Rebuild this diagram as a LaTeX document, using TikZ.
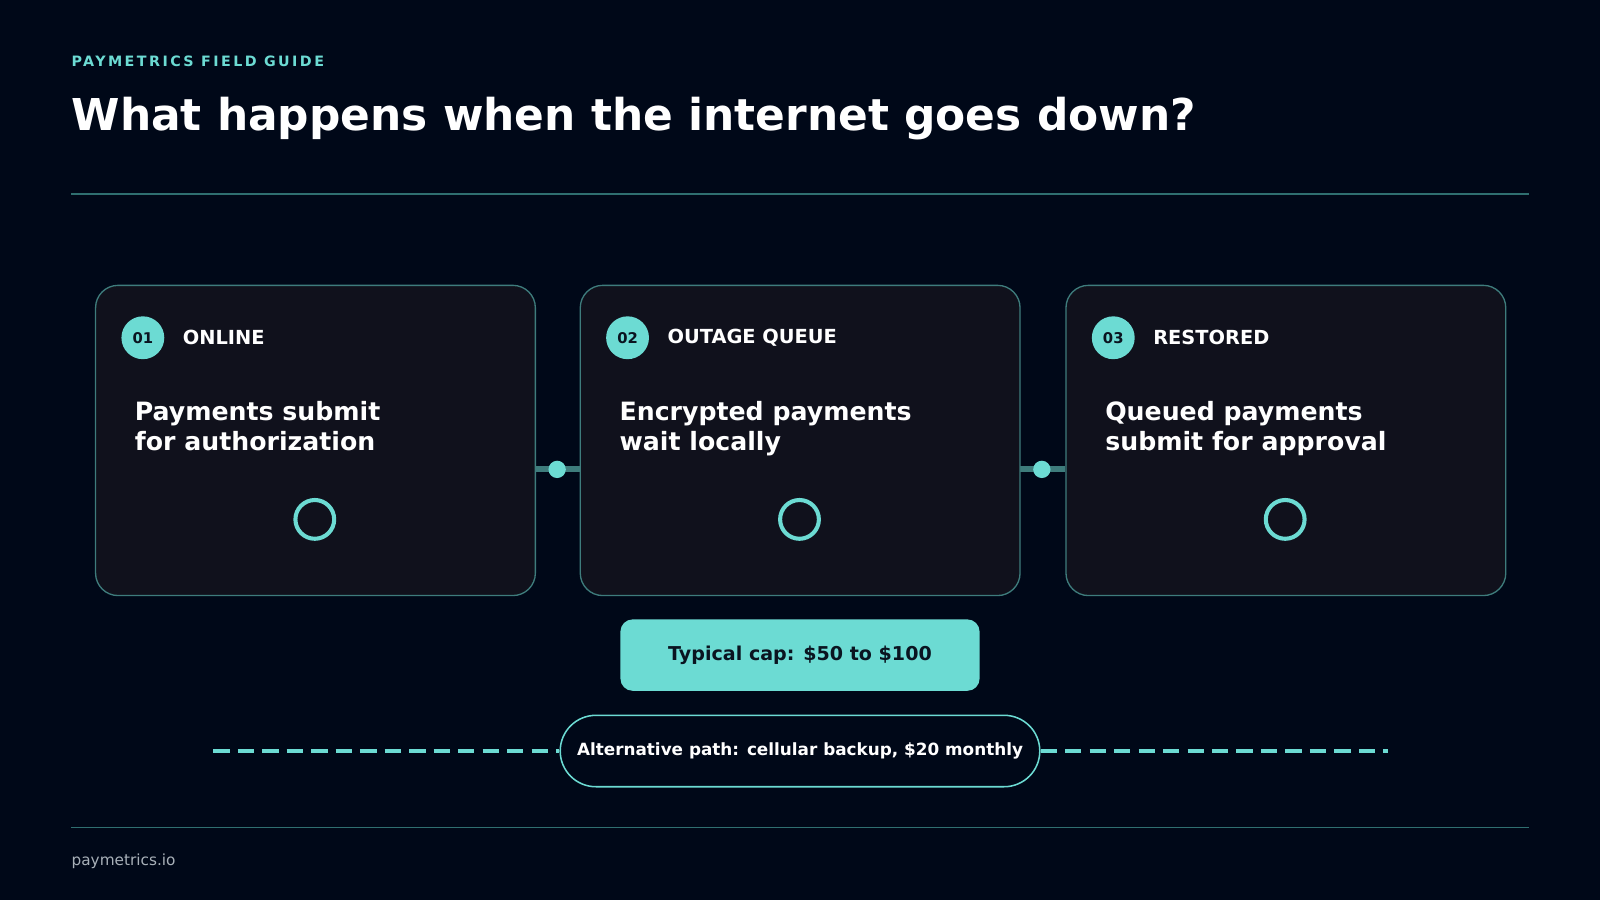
\documentclass[tikz,border=0pt]{standalone}
\usepackage{fontspec}
\setmainfont{DejaVu Sans}
\definecolor{bg}{HTML}{000818}
\definecolor{card}{HTML}{10111C}
\definecolor{cardline}{HTML}{3E7C7C}
\definecolor{teal}{HTML}{6CDBD3}
\definecolor{rule}{HTML}{2F6F70}
\definecolor{dark}{HTML}{0A1420}
\definecolor{foot}{HTML}{A8B0B8}
\begin{document}
\begin{tikzpicture}[x=1pt,y=-1pt,
 cardbox/.style={draw=cardline,line width=1.3pt,fill=card,rounded corners=22pt,minimum width=431pt,minimum height=304pt,inner sep=0pt},
 badge/.style={circle,fill=teal,minimum size=42pt,inner sep=0pt,font=\bfseries\fontsize{14.5}{16}\selectfont,text=dark},
 head/.style={anchor=west,inner sep=0pt,text=white,font=\bfseries\fontsize{19}{22}\selectfont},
 body/.style={anchor=north west,inner sep=0pt,text=white,align=left,font=\bfseries\fontsize{24.7}{30}\selectfont},
 ring/.style={circle,draw=teal,line width=4pt,minimum size=38pt,inner sep=0pt},
 bar/.style={draw=cardline,line width=6pt},
 dot/.style={circle,fill=teal,minimum size=17pt,inner sep=0pt}]
\fill[bg] (0,0) rectangle (1568,882);
\useasboundingbox (0,0) rectangle (1568,882);
\node[anchor=west,inner sep=0pt,text=teal,font=\bfseries\fontsize{14}{16}\selectfont] (kick) at (70,60) {\addfontfeature{LetterSpace=17}PAYMETRICS FIELD GUIDE};
\node[anchor=west,inner sep=0pt,text=white,font=\bfseries\fontsize{43}{50}\selectfont] (title) at (70,116) {What happens when the internet goes down?};
\draw[rule,line width=1.3pt] (70,190) -- (1498,190);
\draw[rule,line width=1.3pt] (70,811) -- (1498,811);
\node[anchor=west,inner sep=0pt,text=foot,font=\fontsize{15}{18}\selectfont] (foot) at (70,844) {paymetrics.io};
\coordinate (b1) at (524,460); \coordinate (b2) at (568,460);
\coordinate (b3) at (999,460); \coordinate (b4) at (1044,460);
\draw[bar] (b1) -- (b2); \draw[bar] (b3) -- (b4);
\foreach \i/\x/\n/\h/\a/\b in {1/93/01/ONLINE/Payments submit/for authorization, 2/568/02/OUTAGE QUEUE/Encrypted payments/wait locally, 3/1044/03/RESTORED/Queued payments/submit for approval}{
 \node[cardbox,anchor=north west] (c\i) at (\x,279) {};
 \node[badge] (n\i) at (\x+47,331) {\n};
 \node[head] (h\i) at (\x+86,331) {\h};
 \node[body] (t\i) at (\x+39,393) {\a\\\b};
 \node[ring] (r\i) at (\x+215.5,509) {};
}
\node[dot] (d1) at (546,460) {};
\node[dot] (d2) at (1021,460) {};
\node[fill=teal,rounded corners=12pt,minimum width=352pt,minimum height=70pt,text=dark,font=\bfseries\fontsize{18.7}{22}\selectfont] (cap) at (784,642) {\raisebox{-2pt}{Typical cap: \$50 to \$100}};
\coordinate (l1) at (209,736); \coordinate (l2) at (1360,736);
\node[draw=teal,line width=1.5pt,fill=bg,rounded corners=35pt,minimum width=470pt,minimum height=70pt,text=white,font=\bfseries\fontsize{16.5}{20}\selectfont] (alt) at (784,736) {\raisebox{-1.5pt}{Alternative path: cellular backup, \$20 monthly}};
\draw[teal,line width=3pt,dash pattern=on 16pt off 8pt] (l1) -- (alt.west);
\draw[teal,line width=3pt,dash pattern=on 16pt off 8pt] (alt.east) -- (l2);
\end{tikzpicture}
\end{document}
